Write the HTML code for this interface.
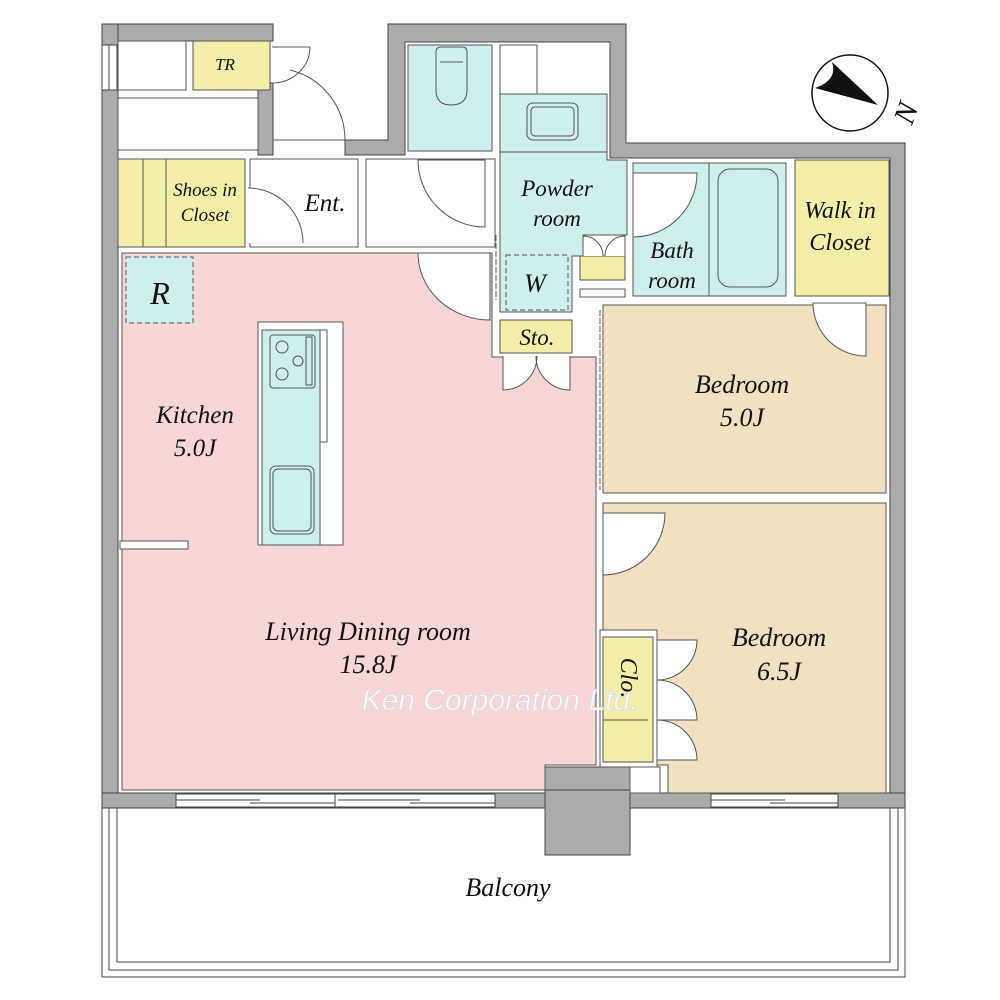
<!DOCTYPE html>
<html><head><meta charset="utf-8"><style>
html,body{margin:0;padding:0;background:#fff}
svg{display:block}
text{font-family:"Liberation Serif",serif;font-style:italic;fill:#111}
</style></head><body>
<svg width="1000" height="1000" viewBox="0 0 1000 1000" xmlns="http://www.w3.org/2000/svg">
<g stroke="#444" stroke-width="1">
<!-- walls -->
<g fill="#ababab">
<rect x="102" y="24" width="171" height="17"/>
<rect x="102" y="24" width="16" height="784"/>
<rect x="258" y="83" width="15" height="72"/>
<polygon points="345,140 388,140 388,24 626,24 626,143 905,143 905,808 890,808 890,158 610,158 610,42 405,42 405,155 345,155"/>
<rect x="102" y="793" width="803" height="15"/>
<rect x="545" y="767" width="85" height="88"/>
</g>
<!-- balcony -->
<rect x="102" y="808" width="803" height="169" fill="#fff"/>
<rect x="109" y="808" width="789" height="162" fill="none"/>
<rect x="117" y="808" width="773" height="154" fill="none"/>
<rect x="545" y="790" width="85" height="65" fill="#ababab"/>
<!-- windows bottom -->
<rect x="176" y="794" width="319" height="13" fill="#fff"/>
<line x1="176" y1="800" x2="260" y2="800"/><line x1="250" y1="803" x2="335" y2="803"/>
<line x1="335" y1="794" x2="335" y2="807"/>
<line x1="338" y1="800" x2="420" y2="800"/><line x1="410" y1="803" x2="495" y2="803"/>
<rect x="711" y="794" width="127" height="13" fill="#fff"/>
<line x1="711" y1="800" x2="785" y2="800"/><line x1="770" y1="803" x2="838" y2="803"/>
<rect x="102" y="45" width="15" height="45" fill="#fff"/>
<line x1="109" y1="45" x2="109" y2="90"/>
</g>
<g stroke="#555" stroke-width="1">
<!-- top-left rooms -->
<rect x="118" y="41" width="68" height="49" fill="#fff"/>
<rect x="193" y="41" width="77" height="49" fill="#f4efa8"/>
<rect x="118" y="98" width="140" height="52" fill="#fff"/>
<rect x="118" y="159" width="127" height="88" fill="#f4efa8"/>
<line x1="143" y1="159" x2="143" y2="247"/><line x1="166" y1="159" x2="166" y2="247"/>
<rect x="250" y="159" width="108" height="88" fill="#fff"/>
<rect x="366" y="159" width="129" height="88" fill="#fff"/>
<!-- toilet -->
<rect x="408" y="45" width="84" height="106" fill="#cfeeee"/>
<rect x="500" y="45" width="37" height="49" fill="#fff"/>
<path d="M436,52 Q436,47 441,47 L462,47 Q467,47 467,52 L467,90 Q467,105 451,105 Q436,105 436,90 Z" fill="#cfeeee"/>
<line x1="440" y1="62" x2="463" y2="62"/>
<!-- powder -->
<polygon points="500,94 607,94 607,160 627,160 627,235 583,235 583,256 572,256 572,312 500,312" fill="#cfeeee"/>
<line x1="500" y1="152" x2="607" y2="152"/>
<rect x="527" y="103" width="51" height="37" rx="6" fill="none"/>
<rect x="531" y="107" width="43" height="29" rx="4" fill="none"/>
<rect x="506" y="255" width="62" height="55" fill="none" stroke-dasharray="5,3"/>
<rect x="580" y="256" width="45" height="24" fill="#f4efa8"/>
<rect x="580" y="289" width="45" height="8" fill="#fff"/>
<path d="M583,256 L583,236 A20,20 0 0 1 603,256 M625,256 L625,236 A20,20 0 0 0 605,256" fill="#fff"/>
<!-- bath -->
<rect x="633" y="163" width="153" height="133" fill="#cfeeee"/>
<line x1="709" y1="163" x2="709" y2="296"/>
<rect x="718" y="169" width="60" height="118" rx="12" fill="none"/>
<path d="M633,173 L697,173 A64,64 0 0 1 633,237 Z" fill="#fff"/>
<rect x="795" y="160" width="94" height="136" fill="#f4efa8"/>
<!-- LDR -->
<polygon points="122,253 492,253 492,357 596,357 596,765 545,765 545,790 122,790" fill="#f9d6d6"/>
<rect x="500" y="320" width="72" height="33" fill="#f4efa8"/>
<path d="M503,356 L503,390 A34,34 0 0 0 537,356 M570,356 L570,390 A34,34 0 0 1 536,356" fill="#fff"/>
<rect x="126" y="257" width="67" height="66" fill="#cfeeee" stroke-dasharray="5,3"/>
<rect x="120" y="541" width="68" height="8" fill="#fff"/>
<!-- island -->
<rect x="258" y="322" width="85" height="223" fill="#fff"/>
<rect x="262" y="330" width="58" height="215" fill="#cfeeee"/>
<polyline points="320,330 327,330 327,442 320,442" fill="none"/>
<rect x="270" y="335" width="45" height="53" rx="3" fill="none"/>
<circle cx="282" cy="347" r="6" fill="none"/><circle cx="282" cy="374" r="6" fill="none"/><circle cx="298" cy="361" r="5" fill="none"/>
<rect x="306" y="337" width="6" height="48" fill="none"/>
<rect x="270" y="466" width="44" height="68" rx="6" fill="none"/>
<rect x="273" y="469" width="38" height="62" rx="5" fill="none"/>
<!-- doors -->
<path d="M418,253 A72,67 0 0 0 490,320 L490,253 Z" fill="#fff"/>
<path d="M418,160 A67,67 0 0 0 485,227 L485,160 Z" fill="#fff"/>
<path d="M248,188 A55,55 0 0 1 303,243 L248,243 Z" fill="#fff" stroke="none"/>
<path d="M248,188 A55,55 0 0 1 303,243" fill="none"/>
<line x1="272" y1="47" x2="310" y2="47"/><path d="M310,47 A38,36 0 0 1 272,83" fill="none"/>
<path d="M345,140 A72,72 0 0 0 290,70" fill="none"/>
<line x1="273" y1="140" x2="345" y2="140"/>
<!-- bedrooms -->
<rect x="603" y="305" width="283" height="188" fill="#f2e1c0"/>
<path d="M813,303 A53,53 0 0 0 866,356 L866,303 Z" fill="#fff"/>
<polygon points="603,503 886,503 886,793 668,793 668,765 603,765" fill="#f2e1c0"/>
<path d="M603,513 L665,513 A62,62 0 0 1 603,575 Z" fill="#fff"/>
<rect x="600" y="630" width="57" height="137" fill="#fff"/>
<rect x="603" y="637" width="50" height="125" fill="#f4efa8"/>
<line x1="603" y1="720" x2="648" y2="720"/>
<path d="M657,640 L697,640 A40,40 0 0 1 657,680 Z M657,680 A40,40 0 0 1 697,720 L657,720 Z M657,720 A40,40 0 0 1 697,760 L657,760 Z" fill="#fff"/>
<rect x="630" y="767" width="30" height="26" fill="#fff"/>
<line x1="600" y1="310" x2="600" y2="490" stroke-dasharray="6,2"/>
<line x1="496" y1="235" x2="496" y2="300" stroke-dasharray="6,2"/>
</g>
<!-- compass -->
<circle cx="850" cy="93" r="38" fill="#fff" stroke="#111" stroke-width="1.5"/>
<path d="M832,62 Q838,80 815,88 L878,105 Z" fill="#111"/>
<text x="898" y="130" font-size="30" font-style="normal" transform="rotate(-70 902 118)">N</text>
<!-- watermark -->
<text x="500" y="710" font-size="30" font-style="normal" text-anchor="middle" style="font-family:'Liberation Sans',sans-serif;fill:#fff;stroke:#ddd;stroke-width:1">Ken Corporation Ltd.</text>
<!-- labels -->
<text x="225" y="70" font-size="17" text-anchor="middle">TR</text>
<text x="205" y="196" font-size="19" text-anchor="middle">Shoes in</text>
<text x="205" y="221" font-size="19" text-anchor="middle">Closet</text>
<text x="325" y="211" font-size="25" text-anchor="middle">Ent.</text>
<text x="160" y="304" font-size="32" text-anchor="middle">R</text>
<text x="557" y="196" font-size="23" text-anchor="middle">Powder</text>
<text x="557" y="226" font-size="23" text-anchor="middle">room</text>
<text x="535" y="292" font-size="26" text-anchor="middle">W</text>
<text x="537" y="345" font-size="23" text-anchor="middle">Sto.</text>
<text x="672" y="258" font-size="23" text-anchor="middle">Bath</text>
<text x="672" y="288" font-size="23" text-anchor="middle">room</text>
<text x="840" y="218" font-size="24" text-anchor="middle">Walk in</text>
<text x="840" y="250" font-size="24" text-anchor="middle">Closet</text>
<text x="195" y="423" font-size="25" text-anchor="middle">Kitchen</text>
<text x="195" y="456" font-size="25" text-anchor="middle">5.0J</text>
<text x="742" y="393" font-size="26" text-anchor="middle">Bedroom</text>
<text x="742" y="426" font-size="26" text-anchor="middle">5.0J</text>
<text x="779" y="646" font-size="26" text-anchor="middle">Bedroom</text>
<text x="779" y="680" font-size="26" text-anchor="middle">6.5J</text>
<text x="368" y="640" font-size="26" text-anchor="middle">Living Dining room</text>
<text x="368" y="673" font-size="26" text-anchor="middle">15.8J</text>
<text x="628" y="685" font-size="24" text-anchor="middle" transform="rotate(90 628 678)">Clo.</text>
<text x="508" y="896" font-size="26" text-anchor="middle">Balcony</text>
</svg>
</body></html>
